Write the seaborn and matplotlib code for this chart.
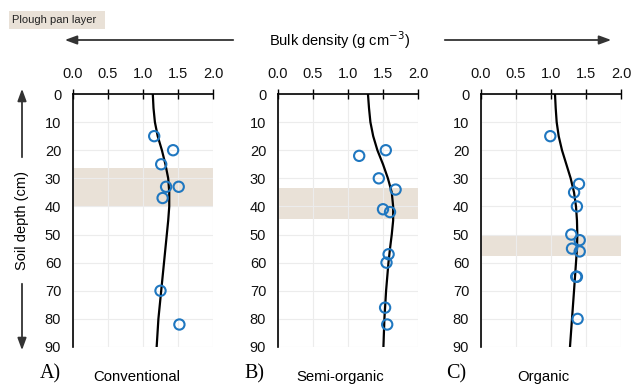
import matplotlib
matplotlib.use("Agg")
import matplotlib.pyplot as plt
import seaborn as sns
import pandas as pd
import numpy as np

# ---------------- data ----------------
panel_letters = ["A)", "B)", "C)"]
panel_names = ["Conventional", "Semi-organic", "Organic"]

# measured points (bulk density, depth)
conv_bd = [1.16, 1.43, 1.26, 1.33, 1.51, 1.28, 1.25, 1.52]
conv_depth = [15, 20, 25, 33, 33, 37, 70, 82]
semi_bd = [1.54, 1.16, 1.44, 1.68, 1.50, 1.60, 1.58, 1.55, 1.53, 1.56]
semi_depth = [20, 22, 30, 34, 41, 42, 57, 60, 76, 82]
org_bd = [0.99, 1.40, 1.33, 1.37, 1.29, 1.41, 1.30, 1.41, 1.37, 1.36, 1.38]
org_depth = [15, 32, 35, 40, 50, 52, 55, 56, 65, 65, 80]

# fitted curves (bulk density at depth)
curve_depth = [0, 5, 10, 15, 20, 25, 30, 35, 40, 45, 50, 55, 60, 70, 80, 90]
conv_curve = [1.14, 1.15, 1.17, 1.21, 1.27, 1.32, 1.36, 1.375, 1.375, 1.36, 1.34, 1.32, 1.30, 1.26, 1.22, 1.195]
semi_curve = [1.285, 1.30, 1.32, 1.36, 1.42, 1.50, 1.57, 1.625, 1.645, 1.645, 1.625, 1.60, 1.578, 1.544, 1.52, 1.506]
org_curve = [1.057, 1.067, 1.081, 1.11, 1.157, 1.219, 1.281, 1.329, 1.357, 1.371, 1.376, 1.371, 1.357, 1.329, 1.30, 1.271]

# plough pan layers (top, bottom depth)
pan_top = [26.4, 33.3, 50.2]
pan_bottom = [40.1, 44.6, 57.5]

x_ticks = [0.0, 0.5, 1.0, 1.5, 2.0]
y_ticks = [0, 10, 20, 30, 40, 50, 60, 70, 80, 90]

# ---------------- style ----------------
sns.set_theme(style="whitegrid")
plt.rcParams["font.family"] = ["Liberation Sans", "DejaVu Sans"]

pts = [(conv_bd, conv_depth), (semi_bd, semi_depth), (org_bd, org_depth)]
curves = [conv_curve, semi_curve, org_curve]

W, H = 633, 384
fig = plt.figure(figsize=(W / 100, H / 100), dpi=100)
fig.patch.set_facecolor("white")

lefts = [73, 278, 481]
ax_w = 140
ax_top, ax_bot = 94, 347
band_color = "#e9e1d7"
blue = "#1f77c0"

for i in range(3):
    ax = fig.add_axes([lefts[i] / W, 1 - ax_bot / H, ax_w / W, (ax_bot - ax_top) / H])
    ax.set_facecolor("white")
    ax.axhspan(pan_top[i], pan_bottom[i], color=band_color, zorder=0.5, lw=0)
    dfc = pd.DataFrame({"bd": curves[i], "depth": curve_depth})
    sns.lineplot(data=dfc, x="bd", y="depth", orient="y", color="black", lw=1.6, ax=ax, zorder=3)
    dfp = pd.DataFrame({"bd": pts[i][0], "depth": pts[i][1]})
    sns.scatterplot(data=dfp, x="bd", y="depth", ax=ax, s=55, facecolors="none",
                    edgecolor=blue, linewidth=1.5, zorder=4)
    ax.set_xlim(0, 2.0)
    ax.set_ylim(90, 0)
    ax.set_xticks(x_ticks)
    ax.set_xticklabels([f"{v:.1f}" for v in x_ticks])
    ax.set_yticks(y_ticks)
    ax.xaxis.tick_top()
    ax.tick_params(axis="both", direction="inout", length=7, width=1, color="black",
                   labelsize=10.5, labelcolor="#111111")
    ax.tick_params(axis="x", pad=6)
    ax.tick_params(axis="y", pad=5)
    ax.set_xlabel("")
    ax.set_ylabel("")
    ax.grid(True, color="#ececec", lw=0.8)
    for s in ["right", "bottom"]:
        ax.spines[s].set_visible(False)
    for s in ["left", "top"]:
        ax.spines[s].set_visible(True)
        ax.spines[s].set_color("black")
        ax.spines[s].set_linewidth(1.2)

# bottom panel labels
letter_x = [50, 254, 456]
name_x = [137, 340, 543]
for i in range(3):
    fig.text(letter_x[i] / W, 1 - 374 / H, panel_letters[i], family="Liberation Serif",
             fontsize=14.5, ha="center", va="center", color="black")
    fig.text(name_x[i] / W, 1 - 377 / H, panel_names[i], fontsize=10.7,
             ha="center", va="center", color="black")

# header
fig.text(340 / W, 1 - 40 / H, "Bulk density (g cm$^{-3}$)", fontsize=10.5,
         ha="center", va="center", color="black")
arrow_kw = dict(arrowstyle="-|>,head_length=0.6,head_width=0.22", color="#333333", lw=1.3)
fig.add_artist(matplotlib.patches.FancyArrowPatch((236 / W, 1 - 40 / H), (62 / W, 1 - 40 / H),
               transform=fig.transFigure, mutation_scale=12, **arrow_kw))
fig.add_artist(matplotlib.patches.FancyArrowPatch((442 / W, 1 - 40 / H), (614 / W, 1 - 40 / H),
               transform=fig.transFigure, mutation_scale=12, **arrow_kw))

# soil depth label & arrows
fig.text(22 / W, 1 - 220 / H, "Soil depth (cm)", fontsize=10.5, rotation=90,
         ha="center", va="center", color="black")
fig.add_artist(matplotlib.patches.FancyArrowPatch((22 / W, 1 - 160 / H), (22 / W, 1 - 86 / H),
               transform=fig.transFigure, mutation_scale=12, **arrow_kw))
fig.add_artist(matplotlib.patches.FancyArrowPatch((22 / W, 1 - 281 / H), (22 / W, 1 - 353 / H),
               transform=fig.transFigure, mutation_scale=12, **arrow_kw))

# plough pan legend box
fig.add_artist(matplotlib.patches.Rectangle((9 / W, 1 - 29 / H), 96 / W, 18 / H,
               transform=fig.transFigure, facecolor=band_color, edgecolor="none"))
fig.text(12 / W, 1 - 20 / H, "Plough pan layer", fontsize=8, ha="left", va="center",
         color="#222222")

fig.savefig("out.png", dpi=100, facecolor="white")
